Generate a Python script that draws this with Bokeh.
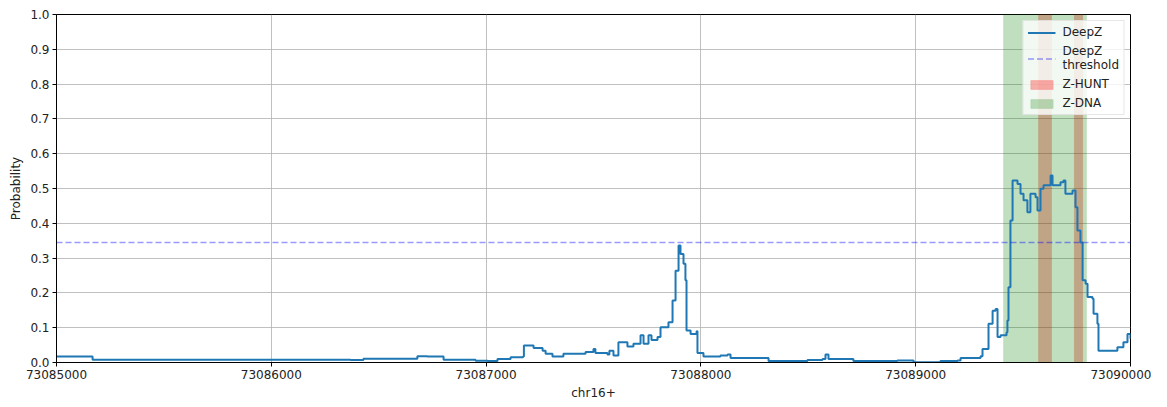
from bokeh.plotting import figure
from bokeh.models import (Range1d, FixedTicker, PrintfTickFormatter, BasicTickFormatter,
                          Legend, LegendItem)
from bokeh.embed import file_html
from bokeh.resources import INLINE

# ---- data ----
start_pos = 73085000
offsets = [0, 121, 168, 1369, 1429, 1662, 1680, 1727, 1802, 1951, 2007, 2053, 2114, 2172, 2176,
           2221, 2263, 2277, 2309, 2360, 2407, 2463, 2500, 2509, 2565, 2574, 2593, 2616, 2658,
           2686, 2719, 2733, 2756, 2770, 2798, 2812, 2845, 2849, 2868, 2882, 2896, 2905, 2919,
           2928, 2933, 2952, 2980, 2984, 3012, 3031, 3091, 3124, 3138, 3291, 3315, 3496, 3566,
           3580, 3594, 3710, 3915, 3990, 4115, 4195, 4209, 4302, 4311, 4339, 4358, 4372, 4381,
           4395, 4423, 4427, 4432, 4441, 4451, 4474, 4488, 4502, 4520, 4534, 4558, 4567, 4581,
           4595, 4628, 4637, 4674, 4688, 4697, 4730, 4744, 4753, 4767, 4777, 4791, 4800, 4823,
           4828, 4846, 4851, 4921, 4939, 4967, 4986, 5000]
deepz = [0.017, 0.017, 0.008, 0.007, 0.011, 0.011, 0.018, 0.017, 0.008, 0.005, 0.004, 0.010,
         0.015, 0.017, 0.049, 0.042, 0.034, 0.025, 0.017, 0.025, 0.025, 0.030, 0.039, 0.027,
         0.023, 0.034, 0.020, 0.058, 0.046, 0.054, 0.078, 0.054, 0.078, 0.065, 0.073, 0.101,
         0.101, 0.116, 0.178, 0.264, 0.336, 0.312, 0.284, 0.236, 0.092, 0.082, 0.090, 0.027,
         0.017, 0.017, 0.020, 0.023, 0.013, 0.013, 0.004, 0.0075, 0.010, 0.023, 0.010, 0.004,
         0.006, 0.001, 0.004, 0.006, 0.013, 0.018, 0.039, 0.111, 0.149, 0.154, 0.073, 0.078,
         0.087, 0.121, 0.216, 0.408, 0.523, 0.513, 0.485, 0.466, 0.432, 0.485, 0.475, 0.437,
         0.499, 0.509, 0.537, 0.509, 0.518, 0.523, 0.485, 0.494, 0.446, 0.379, 0.345, 0.236,
         0.226, 0.188, 0.183, 0.140, 0.111, 0.034, 0.034, 0.044, 0.058, 0.082, 0.068]
positions = [start_pos + o for o in offsets]

threshold = 0.345
zhunt_start = [73089572, 73089739]
zhunt_end = [73089632, 73089777]
zdna_start = [73089409]
zdna_end = [73089795]

x_ticks = [73085000, 73086000, 73087000, 73088000, 73089000, 73090000]
y_ticks = [0.0, 0.1, 0.2, 0.3, 0.4, 0.5, 0.6, 0.7, 0.8, 0.9, 1.0]
x_label = "chr16+"
y_label = "Probability"

FONT = "DejaVu Sans"

p = figure(width=1151, height=405, output_backend="svg", toolbar_location=None,
           x_range=Range1d(x_ticks[0], x_ticks[-1]), y_range=Range1d(0, 1),
           min_border_left=56, min_border_right=21, min_border_top=14, min_border_bottom=43)

r_zh = p.quad(left=zhunt_start, right=zhunt_end, bottom=[0] * len(zhunt_start),
              top=[1] * len(zhunt_start), fill_color="red", fill_alpha=0.3,
              line_color="red", line_alpha=0.15)
r_zd = p.quad(left=zdna_start, right=zdna_end, bottom=[0] * len(zdna_start),
              top=[1] * len(zdna_start), fill_color="green", fill_alpha=0.25,
              line_color="green", line_alpha=0.1)
r_line = p.step(positions, deepz, line_color="#1f77b4", line_width=2, mode="after")
r_thr = p.line([x_ticks[0], x_ticks[-1]], [threshold, threshold], line_color="blue",
               line_alpha=0.4, line_width=1.5, line_dash="6 3")

legend = Legend(items=[LegendItem(label="DeepZ", renderers=[r_line]),
                       LegendItem(label="DeepZ\nthreshold", renderers=[r_thr]),
                       LegendItem(label="Z-HUNT", renderers=[r_zh]),
                       LegendItem(label="Z-DNA", renderers=[r_zd])],
                location="top_right")
legend.label_text_font = FONT
legend.label_text_font_size = "12px"
legend.label_text_color = "#222222"
legend.glyph_width = 28
legend.glyph_height = 11
legend.spacing = 5
legend.padding = 4
legend.margin = 6
legend.label_standoff = 7
legend.label_height = 12
legend.border_line_color = "#d0d0d0"
legend.background_fill_alpha = 0.8
p.add_layout(legend)

p.outline_line_color = "black"
p.outline_line_width = 1
p.xgrid.grid_line_color = "#b0b0b0"
p.ygrid.grid_line_color = "#b0b0b0"
p.xgrid.grid_line_width = 0.8
p.ygrid.grid_line_width = 0.8

p.xaxis.ticker = FixedTicker(ticks=x_ticks)
p.yaxis.ticker = FixedTicker(ticks=y_ticks)
p.xaxis.formatter = BasicTickFormatter(use_scientific=False)
p.yaxis.formatter = PrintfTickFormatter(format="%.1f")
p.xaxis.axis_label = x_label
p.yaxis.axis_label = y_label

for ax in (p.xaxis, p.yaxis):
    ax.axis_line_color = "black"
    ax.major_tick_line_color = "black"
    ax.major_tick_out = 4
    ax.major_tick_in = 0
    ax.minor_tick_line_color = None
    ax.major_label_text_font = FONT
    ax.major_label_text_font_size = "12px"
    ax.major_label_text_color = "#222222"
    ax.axis_label_text_font = FONT
    ax.axis_label_text_font_size = "12px"
    ax.axis_label_text_font_style = "normal"
    ax.axis_label_text_color = "#222222"
    ax.major_label_standoff = 3
    ax.axis_label_standoff = 4

open("out.html", "w").write(file_html(p, INLINE))
